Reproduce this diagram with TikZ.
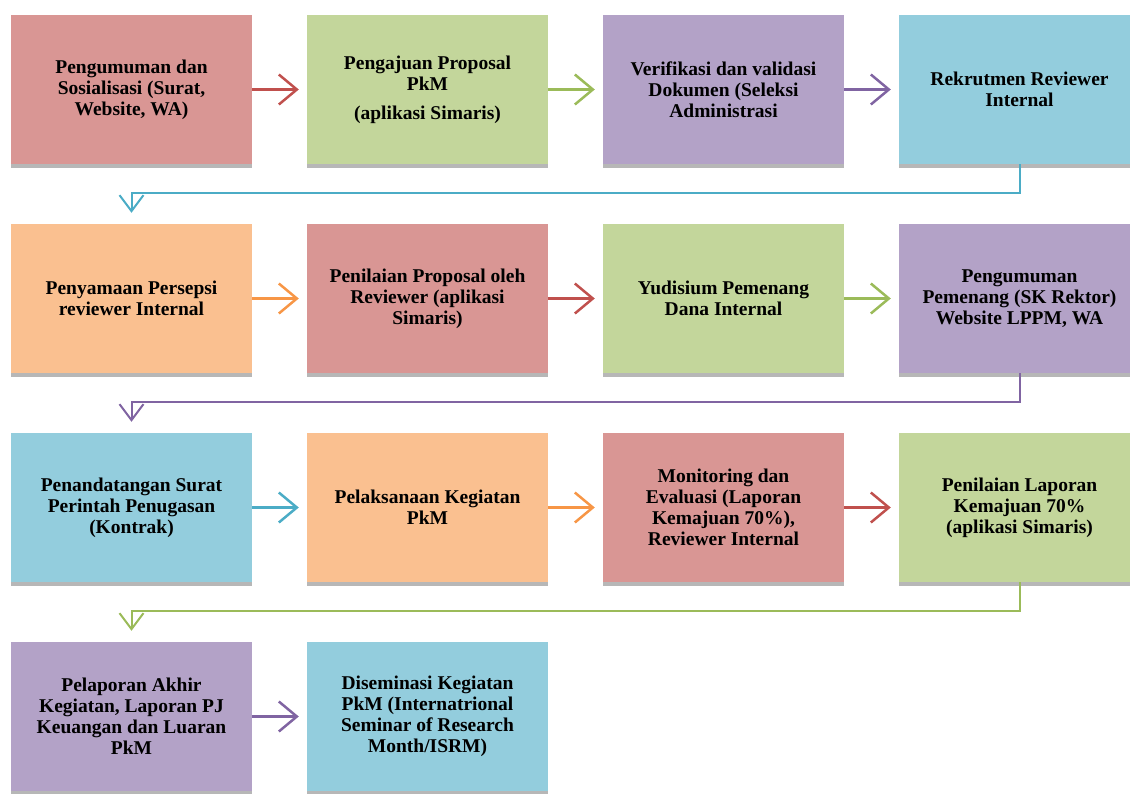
\documentclass[tikz,border=0pt]{standalone}
\usepackage{fontspec}
\setmainfont{Liberation Serif}
\usetikzlibrary{arrows.meta, shadows}
\definecolor{boxred}{HTML}{D99694}
\definecolor{boxgreen}{HTML}{C3D69B}
\definecolor{boxpurple}{HTML}{B3A2C7}
\definecolor{boxblue}{HTML}{93CDDD}
\definecolor{boxorange}{HTML}{FAC090}
\definecolor{linered}{HTML}{C0504D}
\definecolor{linegreen}{HTML}{9BBB59}
\definecolor{linepurple}{HTML}{8064A2}
\definecolor{lineblue}{HTML}{4BACC6}
\definecolor{lineorange}{HTML}{F79646}
\tikzstyle{stepbox} = [rectangle, minimum width=241pt, minimum height=149pt, text centered, align=center, inner sep=0pt, font=\bfseries\fontsize{19.5}{21}\selectfont, drop shadow={shadow xshift=0pt, shadow yshift=-4pt, fill=black!70, opacity=0.4}]
\tikzstyle{redbox} = [stepbox, fill=boxred]
\tikzstyle{greenbox} = [stepbox, fill=boxgreen]
\tikzstyle{purplebox} = [stepbox, fill=boxpurple]
\tikzstyle{bluebox} = [stepbox, fill=boxblue]
\tikzstyle{orangebox} = [stepbox, fill=boxorange]
\tikzstyle{arrow} = [line width=2.5pt, -{Straight Barb[length=18pt, width=30pt]}, shorten >=8pt]
\tikzstyle{turn} = [line width=2pt, -{Straight Barb[length=16pt, width=24pt]}, shorten >=11pt]

\begin{document}
\begin{tikzpicture}[node distance=296pt]
	\clip (0,0) rectangle (1130pt,-793pt);
	% row 1
	\node (peng) [redbox] at (131.5pt,-89.5pt) {Pengumuman dan\\Sosialisasi (Surat,\\Website, WA)};
	\node (ajuan) [greenbox, right of=peng] {Pengajuan Proposal\\PkM\\[8pt](aplikasi Simaris)};
	\node (verif) [purplebox, right of=ajuan] {Verifikasi dan validasi\\Dokumen (Seleksi\\Administrasi};
	\node (rekrut) [bluebox, right of=verif] {Rekrutmen Reviewer\\Internal};
	% row 2
	\node (persepsi) [orangebox, below of=peng, yshift=87pt] {Penyamaan Persepsi\\reviewer Internal};
	\node (nilai) [redbox, right of=persepsi] {Penilaian Proposal oleh\\Reviewer (aplikasi\\Simaris)};
	\node (yudis) [greenbox, right of=nilai] {Yudisium Pemenang\\Dana Internal};
	\node (menang) [purplebox, right of=yudis] {Pengumuman\\Pemenang (SK Rektor)\\Website LPPM, WA};
	% row 3
	\node (kontrak) [bluebox, below of=persepsi, yshift=87pt] {Penandatangan Surat\\Perintah Penugasan\\(Kontrak)};
	\node (laksana) [orangebox, right of=kontrak] {Pelaksanaan Kegiatan\\PkM};
	\node (monev) [redbox, right of=laksana] {Monitoring dan\\Evaluasi (Laporan\\Kemajuan 70\%),\\Reviewer Internal};
	\node (kemajuan) [greenbox, right of=monev] {Penilaian Laporan\\Kemajuan 70\%\\(aplikasi Simaris)};
	% row 4
	\node (akhir) [purplebox, below of=kontrak, yshift=87pt] {Pelaporan Akhir\\Kegiatan, Laporan PJ\\Keuangan dan Luaran\\PkM};
	\node (isrm) [bluebox, right of=akhir] {Diseminasi Kegiatan\\PkM (Internatrional\\Seminar of Research\\Month/ISRM)};
	% arrows
	\draw [arrow, linered] (peng) -- (ajuan);
	\draw [arrow, linegreen] (ajuan) -- (verif);
	\draw [arrow, linepurple] (verif) -- (rekrut);
	\draw [turn, lineblue] (rekrut.south) -- ++(0,-29pt) -| (persepsi);
	\draw [arrow, lineorange] (persepsi) -- (nilai);
	\draw [arrow, linered] (nilai) -- (yudis);
	\draw [arrow, linegreen] (yudis) -- (menang);
	\draw [turn, linepurple] (menang.south) -- ++(0,-29pt) -| (kontrak);
	\draw [arrow, lineblue] (kontrak) -- (laksana);
	\draw [arrow, lineorange] (laksana) -- (monev);
	\draw [arrow, linered] (monev) -- (kemajuan);
	\draw [turn, linegreen] (kemajuan.south) -- ++(0,-29pt) -| (akhir);
	\draw [arrow, linepurple] (akhir) -- (isrm);
\end{tikzpicture}
\end{document}
